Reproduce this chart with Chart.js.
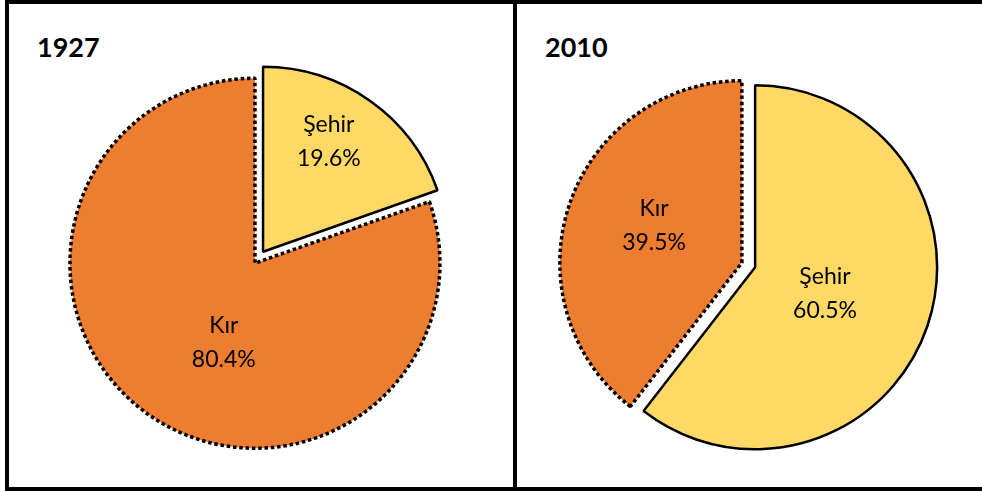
<!DOCTYPE html>
<html lang="tr">
<head>
<meta charset="UTF-8">
<title>Kır ve Şehir Nüfusu, 1927 ve 2010</title>
<style>
  body { margin: 0; background: #fff; font-family: Lato, sans-serif; }
  .box { position: absolute; top: 0; height: 491px; box-sizing: border-box; border: 4px solid #000; }
  #box1 { left: 5px; width: 512px; }
  #box2 { left: 513px; width: 475px; }
  .year { position: absolute; top: 33px; font-weight: bold; font-size: 27px; line-height: 1; color: #000; }
  canvas { position: absolute; top: 4px; }
</style>
</head>
<body>

<div class="box" id="box1"></div>
<div class="box" id="box2"></div>
<div class="year" style="left:37px">1927</div>
<div class="year" style="left:545px">2010</div>
<canvas id="pie1927" width="504" height="483" style="left:9px"></canvas>
<canvas id="pie2010" width="465" height="483" style="left:517px"></canvas>

<script src="https://cdn.jsdelivr.net/npm/chart.js"></script>
<script>
    // data (percent of population)
    var categories1927 = ['Şehir', 'Kır'];
    var values1927 = [19.6, 80.4];
    var categories2010 = ['Şehir', 'Kır'];
    var values2010 = [60.5, 39.5];

    var sliceColors = { 'Şehir': '#FFD966', 'Kır': '#ED7D31' };

    function midAngle(arc) {
        var p = arc.getProps(['startAngle', 'endAngle']);
        return (p.startAngle + p.endAngle) / 2;
    }

    // pulls every slice out a few px (built-in offset also grows the radius),
    // then writes "name / value%" inside each slice
    var explodedPie = {
        id: 'explodedPie',
        beforeDatasetDraw: function(chart, args, opts) {
            var ctx = chart.ctx;
            args.meta.data.forEach(function(arc, i) {
                var mid = midAngle(arc);
                ctx.save();
                ctx.translate(Math.cos(mid) * opts.explode, Math.sin(mid) * opts.explode);
                arc.draw(ctx, chart.chartArea);
                ctx.restore();
            });
            return false;
        },
        afterDatasetsDraw: function(chart, args, opts) {
            var ctx = chart.ctx;
            var meta = chart.getDatasetMeta(0);
            var ds = chart.data.datasets[0];
            ctx.save();
            ctx.font = '23px Lato';
            ctx.fillStyle = '#000';
            ctx.textAlign = 'center';
            meta.data.forEach(function(arc, i) {
                var p = arc.getProps(['x', 'y', 'outerRadius']);
                var mid = midAngle(arc);
                var a = opts.anchors[i];
                var ang = mid + a.shift * Math.PI / 180;
                var x = p.x + Math.cos(mid) * opts.explode + Math.cos(ang) * a.r * p.outerRadius;
                var y = p.y + Math.sin(mid) * opts.explode + Math.sin(ang) * a.r * p.outerRadius;
                ctx.fillText(chart.data.labels[i], x, y - 8.5);
                ctx.fillText(ds.data[i].toFixed(1) + '%', x, y + 25);
            });
            ctx.restore();
        }
    };

    function makePie(id, labels, values, radius, padding, anchors) {
        return new Chart(document.getElementById(id), {
            type: 'pie',
            data: {
                labels: labels,
                datasets: [{
                    data: values,
                    backgroundColor: labels.map(function(l) { return sliceColors[l]; }),
                    borderColor: '#000',
                    borderWidth: function(c) { return labels[c.dataIndex] === 'Kır' ? 3.5 : 2.5; },
                    borderDash: function(c) { return labels[c.dataIndex] === 'Kır' ? [3.5, 2.8] : []; }
                }]
            },
            options: {
                responsive: false,
                animation: false,
                events: [],
                radius: radius,
                layout: { padding: padding },
                plugins: {
                    legend: { display: false },
                    tooltip: { enabled: false },
                    explodedPie: { explode: 7, anchors: anchors }
                }
            },
            plugins: [explodedPie]
        });
    }

    makePie('pie1927', categories1927, values1927, 185,
        { top: 24, right: 4, left: 0, bottom: 0 },
        [{ r: 0.697, shift: -4.6 }, { r: 0.456, shift: -13.6 }]);

    makePie('pie2010', categories2010, values2010, 182,
        { top: 39, right: 2, left: 0, bottom: 0 },
        [{ r: 0.409, shift: 1.3 }, { r: 0.526, shift: 4.6 }]);
</script>

</body>
</html>
